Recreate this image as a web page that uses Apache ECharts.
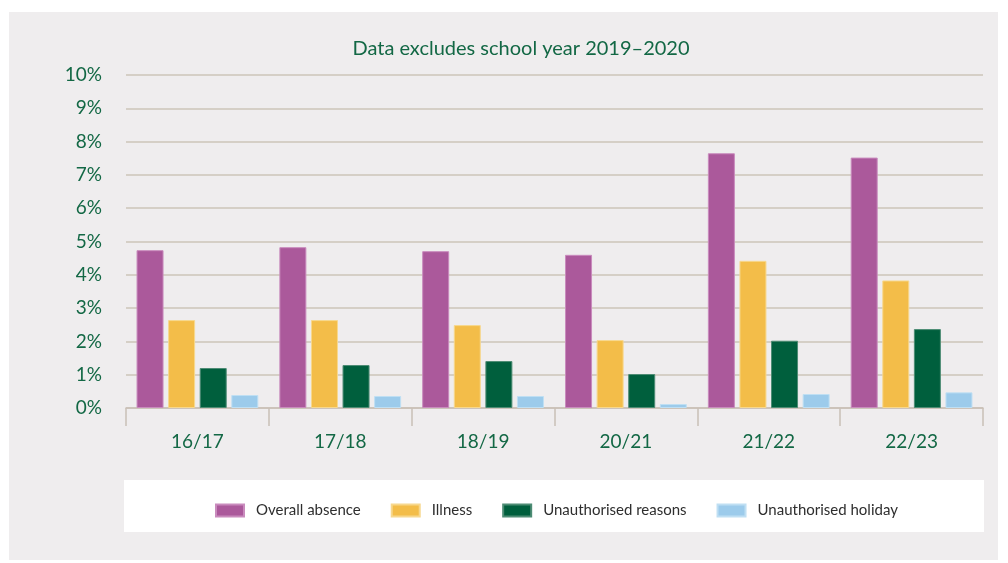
<!DOCTYPE html>
<html>
<head>
<meta charset="utf-8">
<script src="https://cdn.jsdelivr.net/npm/echarts@6/dist/echarts.min.js"></script>
<style>
  html, body { margin: 0; padding: 0; background: #ffffff; }
  #chart { width: 1008px; height: 563px; }
</style>
</head>
<body>
<div id="chart"></div>
<script>
var years = ['16/17', '17/18', '18/19', '20/21', '21/22', '22/23'];
var overallAbsence = [4.74, 4.83, 4.71, 4.6, 7.65, 7.52];
var illness = [2.64, 2.64, 2.49, 2.04, 4.42, 3.83];
var unauthReasons = [1.2, 1.29, 1.41, 1.02, 2.02, 2.37];
var unauthHoliday = [0.39, 0.36, 0.36, 0.12, 0.42, 0.47];

var green = '#136845';
var font = 'Lato, sans-serif';

var chart = echarts.init(document.getElementById('chart'));

function barSeries(name, data, color, border) {
  return {
    name: name,
    type: 'bar',
    data: data,
    barWidth: 27,
    barGap: '17%',
    itemStyle: { color: color, borderColor: border, borderWidth: 1 }
  };
}

var option = {
  backgroundColor: '#ffffff',
  animation: false,
  graphic: [
    { type: 'rect', z: -10, shape: { x: 9, y: 12, width: 989, height: 548 }, style: { fill: '#efedee' } },
    { type: 'rect', z: -5, shape: { x: 124, y: 480, width: 860, height: 52 }, style: { fill: '#ffffff' } }
  ],
  title: {
    text: 'Data excludes school year 2019–2020',
    left: 516,
    textAlign: 'center',
    top: 34,
    textStyle: { color: green, fontFamily: font, fontWeight: 'normal', fontSize: 20 }
  },
  legend: {
    top: 498,
    left: 210,
    itemWidth: 28,
    itemHeight: 12,
    itemGap: 30,
    icon: 'rect',
    textStyle: { color: '#2e2e2e', fontFamily: font, fontSize: 15, padding: [0, 0, 0, 7] },
    data: ['Overall absence', 'Illness', 'Unauthorised reasons', 'Unauthorised holiday']
  },
  grid: { left: 126, right: 25, top: 75, bottom: 155 },
  xAxis: {
    type: 'category',
    data: years,
    axisLine: { lineStyle: { color: '#c9c0b6', width: 1.5 } },
    axisTick: { show: true, length: 18, lineStyle: { color: '#c9c0b6', width: 1.5 } },
    axisLabel: { color: green, fontFamily: font, fontSize: 19, margin: 24 }
  },
  yAxis: {
    type: 'value',
    min: 0,
    max: 10,
    interval: 1,
    axisLine: { show: false },
    axisTick: { show: false },
    splitLine: { lineStyle: { color: '#cdc4b9', width: 1.5 } },
    axisLabel: { color: green, fontFamily: font, fontSize: 19, margin: 24, formatter: '{value}%' }
  },
  series: [
    barSeries('Overall absence', overallAbsence, '#ab599b', '#c98bbd'),
    barSeries('Illness', illness, '#f3bd49', '#f7d88e'),
    barSeries('Unauthorised reasons', unauthReasons, '#005f3d', '#4d8c74'),
    barSeries('Unauthorised holiday', unauthHoliday, '#9ccbeb', '#bfdff3')
  ]
};

chart.setOption(option);
</script>
</body>
</html>
